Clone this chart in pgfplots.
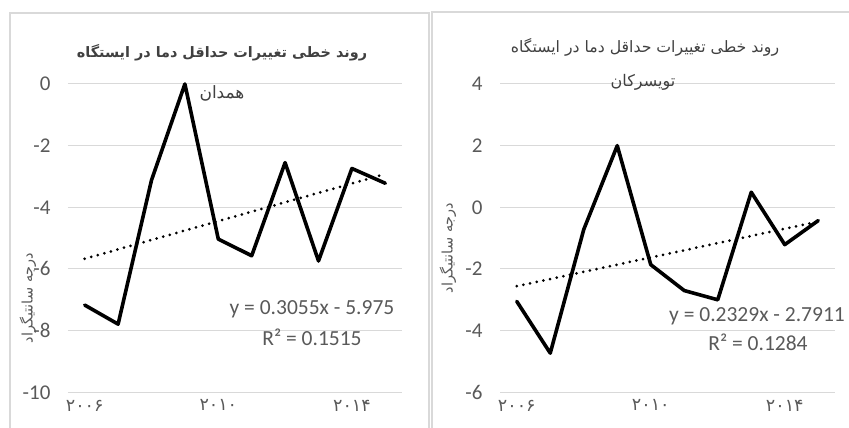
\documentclass[border=0pt]{standalone}
\usepackage{fontspec}
\setmainfont{Carlito}
\newfontfamily\arabicfont[Script=Arabic]{DejaVu Sans}
\newfontfamily\arabicbold[Script=Arabic]{DejaVu Sans Bold}
\usepackage{pgfplots}
\pgfplotsset{compat=1.18}
\TeXXeTstate=1
\definecolor{txt}{HTML}{595959}
\definecolor{ttl}{HTML}{404040}
\definecolor{grd}{HTML}{D9D9D9}

\pgfplotstableread{
year val
2006 -7.17
2007 -7.79
2008 -3.12
2009 0.00
2010 -5.03
2011 -5.57
2012 -2.55
2013 -5.74
2014 -2.74
2015 -3.22
}\hamedan
\pgfplotstableread{
year val
2006 -3.05
2007 -4.73
2008 -0.72
2009 2.00
2010 -1.86
2011 -2.70
2012 -3.00
2013 0.49
2014 -1.21
2015 -0.43
}\tuyserkan

\pgfplotsset{
  panel/.style={
    anchor=south west, scale only axis,
    width=334pt, height=308.3pt,
    xmin=2005.5, xmax=2015.5,
    xtick={2006,2010,2014},
    xticklabels={۲۰۰۶,۲۰۱۰,۲۰۱۴},
    axis line style={draw=none},
    major tick length=0pt,
    ymajorgrids, grid style={grd, line width=1pt},
    clip=false,
    tick label style={text=txt},
    yticklabel style={font=\fontsize{21}{21}\selectfont, xshift=-14pt},
    xticklabel style={font=\arabicfont\fontsize{17.5}{17.5}\selectfont, yshift=-4pt},
  },
  dataline/.style={black, line width=3.6pt, line join=round, line cap=round},
  trend/.style={black, line width=3pt, line cap=round, dash pattern=on 0pt off 6.8pt},
}

\begin{document}
\begin{tikzpicture}[x=1pt,y=1pt]
\path[use as bounding box] (0,0) rectangle (849,428);
\draw[grd, line width=1.5pt] (10,0) -- (10,415) -- (429,415) -- (429,0);
\draw[grd, line width=1.5pt] (432,0) -- (432,416) -- (849,416);

\begin{axis}[panel, at={(68pt,35.7pt)},
  ymin=-10, ymax=0, ytick={-10,-8,-6,-4,-2,0},
  yticklabels={-10,-8,-6,-4,-2,0}]
\addplot[dataline] table[x=year,y=val] {\hamedan};
\addplot[trend] coordinates {(2006,-5.6695) (2015,-2.9200)};
\end{axis}

\begin{axis}[panel, at={(500pt,35.7pt)}, width=335pt,
  ymin=-6, ymax=4, ytick={-6,-4,-2,0,2,4},
  yticklabels={-6,-4,-2,0,2,4}]
\addplot[dataline] table[x=year,y=val] {\tuyserkan};
\addplot[trend] coordinates {(2006,-2.5582) (2015,-0.4621)};
\end{axis}

% titles
\node[text=ttl, font=\arabicbold\fontsize{14.4}{14.4}\selectfont] at (222,375) {\beginR روند خطی تغییرات حداقل دما در ایستگاه\endR};
\node[text=ttl, font=\arabicfont\fontsize{17}{17}\selectfont] at (222,335) {\beginR همدان\endR};
\node[text=ttl, font=\arabicfont\fontsize{15.7}{15.7}\selectfont] at (645,381) {\beginR روند خطی تغییرات حداقل دما در ایستگاه\endR};
\node[text=ttl, font=\arabicfont\fontsize{16}{16}\selectfont] at (643,346) {\beginR تویسرکان\endR};

% y labels
\node[text=txt, rotate=90, font=\arabicfont\fontsize{14.5}{14.5}\selectfont] at (28,130) {\beginR درجه سانتیگراد\endR};
\node[text=txt, rotate=90, font=\arabicfont\fontsize{14.5}{14.5}\selectfont] at (448,180) {\beginR درجه سانتیگراد\endR};

% trend equations
\node[text=txt, font=\fontsize{21.5}{21.5}\selectfont] at (312,119) {y = 0.3055x - 5.975};
\node[text=txt, font=\fontsize{21.5}{21.5}\selectfont] at (312,91) {R² = 0.1515};
\node[text=txt, font=\fontsize{21.5}{21.5}\selectfont] at (757,112) {y = 0.2329x - 2.7911};
\node[text=txt, font=\fontsize{21.5}{21.5}\selectfont] at (758,86) {R² = 0.1284};
\end{tikzpicture}
\end{document}
